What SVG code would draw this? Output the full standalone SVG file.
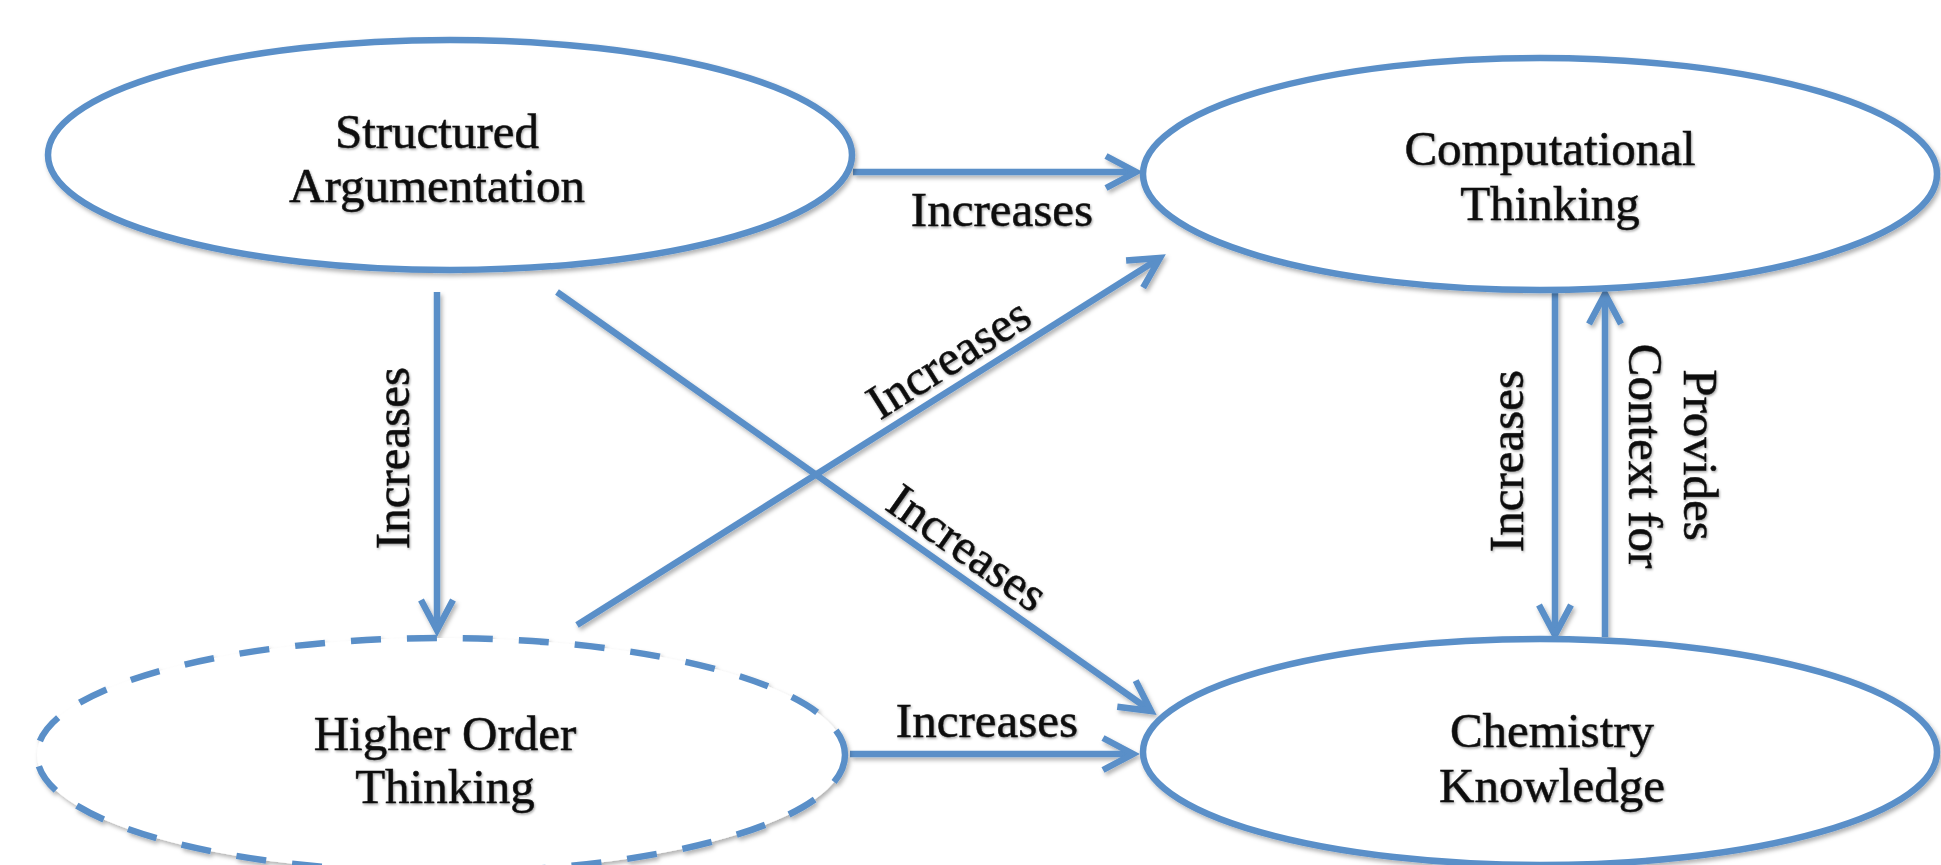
<svg xmlns="http://www.w3.org/2000/svg" width="1941" height="865" viewBox="0 0 1941 865">
<style>
.node{fill:#ffffff;stroke:#5A8FC8;stroke-width:6.5}
.dashed{stroke-dasharray:30 26}
.conn{fill:none;stroke:#5A8FC8;stroke-width:6.5}
text{font-family:"Liberation Serif","Times New Roman",serif;font-size:49px;fill:#111111;text-anchor:middle;stroke:#111111;stroke-width:0.5}
</style>
<defs>
<filter id="sh" x="-10%" y="-10%" width="120%" height="130%">
<feDropShadow dx="2" dy="3" stdDeviation="2" flood-color="#000000" flood-opacity="0.3"/>
</filter>
<filter id="tsh" x="-5%" y="-20%" width="110%" height="140%">
<feDropShadow dx="1" dy="1.5" stdDeviation="1" flood-color="#000000" flood-opacity="0.35"/>
</filter>
<marker id="arr" markerUnits="userSpaceOnUse" markerWidth="44" markerHeight="44" viewBox="-38 -22 44 44" refX="0" refY="0" orient="auto" overflow="visible">
<path d="M -30 -16 L 0 0 L -30 16" fill="none" stroke="#5A8FC8" stroke-width="6.5"/>
</marker>
</defs>
<rect width="1941" height="865" fill="#ffffff"/>
<g id="connectors" filter="url(#sh)">
<path class="conn" d="M 853 172 L 1136 172" marker-end="url(#arr)"/>
<path class="conn" d="M 437 292 L 437 630" marker-end="url(#arr)"/>
<path class="conn" d="M 557 292 L 1151 711" marker-end="url(#arr)"/>
<path class="conn" d="M 577 625 L 1160 258" marker-end="url(#arr)"/>
<path class="conn" d="M 850 754 L 1133 754" marker-end="url(#arr)"/>
<path class="conn" d="M 1555 292 L 1555 635" marker-end="url(#arr)"/>
<path class="conn" d="M 1605 637 L 1605 294" marker-end="url(#arr)"/>
</g>
<g id="labels" filter="url(#tsh)">
<text x="1002" y="226">Increases</text>
<text x="987" y="737">Increases</text>
<text transform="translate(409,458) rotate(-90)">Increases</text>
<text transform="translate(1523,461) rotate(-90)">Increases</text>
<text transform="translate(1684,455) rotate(90)">Provides</text>
<text transform="translate(1629,456) rotate(90)">Context for</text>
<text transform="translate(958,561) rotate(35.2)">Increases</text>
<text transform="translate(957,372) rotate(-32.2)">Increases</text>
</g>
<g id="structured-argumentation">
<ellipse class="node" cx="450" cy="155" rx="402" ry="115" filter="url(#sh)"/>
<g filter="url(#tsh)">
<text x="437" y="148">Structured</text>
<text x="437" y="202">Argumentation</text>
</g>
</g>
<g id="computational-thinking">
<ellipse class="node" cx="1540" cy="174" rx="397" ry="116" filter="url(#sh)"/>
<g filter="url(#tsh)">
<text x="1550" y="165">Computational</text>
<text x="1550" y="220">Thinking</text>
</g>
</g>
<g id="higher-order-thinking">
<ellipse class="node dashed" cx="441" cy="755" rx="404" ry="117" filter="url(#sh)"/>
<g filter="url(#tsh)">
<text x="445" y="750">Higher Order</text>
<text x="445" y="803">Thinking</text>
</g>
</g>
<g id="chemistry-knowledge">
<ellipse class="node" cx="1540" cy="752" rx="397" ry="113" filter="url(#sh)"/>
<g filter="url(#tsh)">
<text x="1552" y="747">Chemistry</text>
<text x="1552" y="802">Knowledge</text>
</g>
</g>
</svg>
